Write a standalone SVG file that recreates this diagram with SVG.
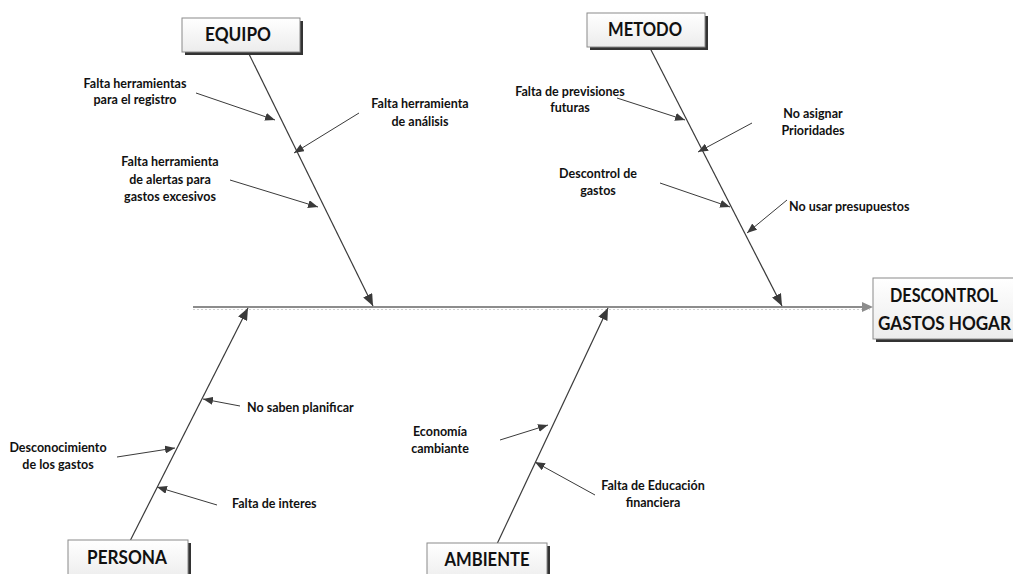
<svg xmlns="http://www.w3.org/2000/svg" width="1013" height="574" viewBox="0 0 1013 574">
<defs>
<linearGradient id="boxg" x1="0" y1="0" x2="0" y2="1">
<stop offset="0" stop-color="#ffffff"/>
<stop offset="1" stop-color="#ececec"/>
</linearGradient>
<marker id="ah" viewBox="0 0 10 8" refX="10" refY="4" markerWidth="10" markerHeight="8" markerUnits="userSpaceOnUse" orient="auto">
<path d="M0,0 L10,4 L0,8 Z" fill="#3a3a3a"/>
</marker>
<marker id="ahs" viewBox="0 0 12 10" refX="12" refY="5" markerWidth="12" markerHeight="10" markerUnits="userSpaceOnUse" orient="auto">
<path d="M0,0 L12,5 L0,10 Z" fill="#3a3a3a"/>
</marker>
</defs>
<style>
.box{fill:url(#boxg);stroke:#8a8a8a;stroke-width:1}
.shadow{fill:#333}
.title{font-family:Lato,"Liberation Sans",sans-serif;font-weight:bold;font-size:19px;fill:#111;text-anchor:middle}
.lbl{font-family:Lato,"Liberation Sans",sans-serif;font-weight:bold;font-size:12.5px;fill:#111}
.c{text-anchor:middle}
.bone{stroke:#3a3a3a;stroke-width:1.2;fill:none;marker-end:url(#ahs)}
.sub{stroke:#3a3a3a;stroke-width:1;fill:none;marker-end:url(#ah)}
.spine{stroke:#8c8c8c;stroke-width:2;fill:none}
</style>
<rect width="1013" height="574" fill="#ffffff"/>
<g id="connectors">
<line class="spine" x1="193" y1="307" x2="862" y2="307"/>
<line x1="193" y1="309.5" x2="870" y2="309.5" stroke="#cfcfcf" stroke-width="1" stroke-dasharray="2,2"/>
<path d="M862,302 L873,307 L862,312 Z" fill="#8c8c8c"/>
<line class="bone" x1="248" y1="52" x2="373" y2="306"/>
<line class="bone" x1="650" y1="48" x2="782" y2="306"/>
<line class="bone" x1="130" y1="541" x2="248" y2="308"/>
<line class="bone" x1="497" y1="544" x2="608" y2="308"/>
<line class="sub" x1="196" y1="93" x2="275" y2="120"/>
<line class="sub" x1="359" y1="113" x2="294" y2="153"/>
<line class="sub" x1="230" y1="180" x2="318" y2="207"/>
<line class="sub" x1="617" y1="98" x2="685" y2="120"/>
<line class="sub" x1="752" y1="123" x2="698" y2="152"/>
<line class="sub" x1="660" y1="183" x2="730" y2="207"/>
<line class="sub" x1="787" y1="200" x2="747" y2="233"/>
<line class="sub" x1="240" y1="406" x2="203" y2="399"/>
<line class="sub" x1="117" y1="457" x2="175" y2="448"/>
<line class="sub" x1="217" y1="505" x2="157" y2="487"/>
<line class="sub" x1="500" y1="440" x2="548" y2="425"/>
<line class="sub" x1="595" y1="495" x2="535" y2="462"/>
</g>
<g id="equipo">
<rect class="shadow" x="185" y="21" width="118" height="34"/>
<rect class="box" x="182" y="18" width="118" height="34"/>
<text class="title" x="238" y="41" textLength="66" lengthAdjust="spacingAndGlyphs">EQUIPO</text>
</g>
<g id="metodo">
<rect class="shadow" x="590" y="16" width="118" height="34"/>
<rect class="box" x="587" y="13" width="118" height="34"/>
<text class="title" x="645" y="36" textLength="74" lengthAdjust="spacingAndGlyphs">METODO</text>
</g>
<g id="persona">
<rect class="shadow" x="71" y="543" width="120" height="40"/>
<rect class="box" x="68" y="540" width="120" height="40"/>
<text class="title" x="127" y="564" textLength="80" lengthAdjust="spacingAndGlyphs">PERSONA</text>
</g>
<g id="ambiente">
<rect class="shadow" x="430" y="546" width="120" height="40"/>
<rect class="box" x="427" y="543" width="120" height="40"/>
<text class="title" x="487" y="566" textLength="85" lengthAdjust="spacingAndGlyphs">AMBIENTE</text>
</g>
<g id="efecto">
<rect class="shadow" x="876" y="281" width="150" height="61"/>
<rect class="box" x="873" y="278" width="150" height="61"/>
<text class="title" x="944" y="302" textLength="108" lengthAdjust="spacingAndGlyphs">DESCONTROL</text>
<text class="title" x="944.5" y="330" textLength="133" lengthAdjust="spacingAndGlyphs">GASTOS HOGAR</text>
</g>
<g id="causa-equipo-1"><text class="lbl c" x="135" y="88">Falta herramientas</text><text class="lbl c" x="135" y="104">para el registro</text></g>
<g id="causa-equipo-2"><text class="lbl c" x="420" y="108">Falta herramienta</text><text class="lbl c" x="420" y="126">de análisis</text></g>
<g id="causa-equipo-3"><text class="lbl c" x="170" y="166">Falta herramienta</text><text class="lbl c" x="170" y="184">de alertas para</text><text class="lbl c" x="170" y="201">gastos excesivos</text></g>
<g id="causa-metodo-1"><text class="lbl c" x="570" y="96">Falta de previsiones</text><text class="lbl c" x="570" y="112">futuras</text></g>
<g id="causa-metodo-2"><text class="lbl c" x="813" y="118">No asignar</text><text class="lbl c" x="813" y="135">Prioridades</text></g>
<g id="causa-metodo-3"><text class="lbl c" x="598" y="178">Descontrol de</text><text class="lbl c" x="598" y="195">gastos</text></g>
<g id="causa-metodo-4"><text class="lbl" x="789" y="211">No usar presupuestos</text></g>
<g id="causa-persona-1"><text class="lbl" x="247" y="412">No saben planificar</text></g>
<g id="causa-persona-2"><text class="lbl c" x="58" y="452">Desconocimiento</text><text class="lbl c" x="58" y="469">de los gastos</text></g>
<g id="causa-persona-3"><text class="lbl" x="232" y="508">Falta de interes</text></g>
<g id="causa-ambiente-1"><text class="lbl c" x="440" y="436">Economía</text><text class="lbl c" x="440" y="453">cambiante</text></g>
<g id="causa-ambiente-2"><text class="lbl c" x="653" y="490">Falta de Educación</text><text class="lbl c" x="653" y="507">financiera</text></g>
</svg>
